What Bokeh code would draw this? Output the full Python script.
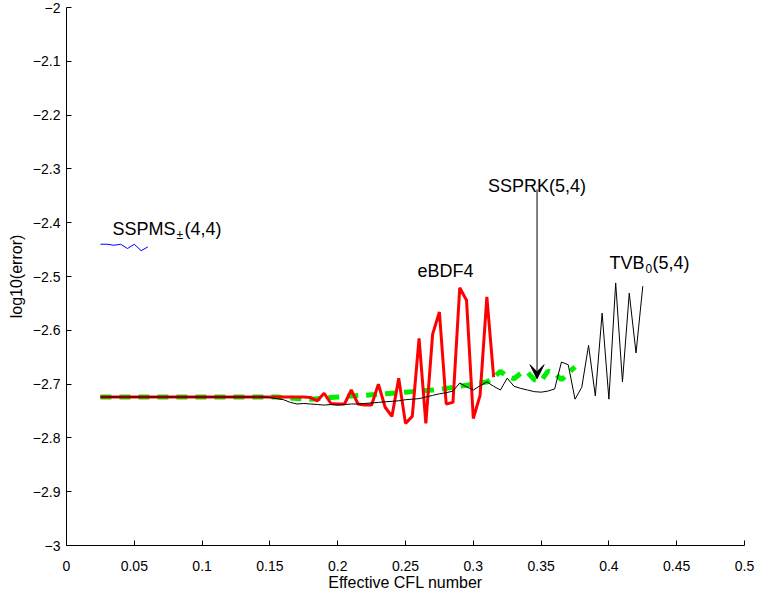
from bokeh.plotting import figure
from bokeh.models import Range1d, FixedTicker, Label, Arrow, VeeHead
from bokeh.embed import file_html
from bokeh.resources import INLINE

FONT = "Liberation Sans"

# ---------------- data ----------------
x_ticks = [0, 0.05, 0.1, 0.15, 0.2, 0.25, 0.3, 0.35, 0.4, 0.45, 0.5]
x_tick_labels = ["0", "0.05", "0.1", "0.15", "0.2", "0.25", "0.3", "0.35", "0.4", "0.45", "0.5"]
y_ticks = [-3, -2.9, -2.8, -2.7, -2.6, -2.5, -2.4, -2.3, -2.2, -2.1, -2]
y_tick_labels = ["\u22123", "\u22122.9", "\u22122.8", "\u22122.7", "\u22122.6", "\u22122.5",
                 "\u22122.4", "\u22122.3", "\u22122.2", "\u22122.1", "\u22122"]

sspms_x = [0.025, 0.03, 0.035, 0.04, 0.045, 0.05, 0.055, 0.06]
sspms_y = [-2.440, -2.440, -2.442, -2.440, -2.448, -2.440, -2.452, -2.445]

ebdf_x = [0.025, 0.03, 0.035, 0.04, 0.045, 0.05, 0.055, 0.06, 0.065, 0.07,
          0.075, 0.08, 0.085, 0.09, 0.095, 0.1, 0.105, 0.11, 0.115, 0.12,
          0.125, 0.13, 0.135, 0.14, 0.145, 0.15, 0.155, 0.16, 0.165, 0.17,
          0.175, 0.18, 0.185, 0.19, 0.195, 0.2, 0.205, 0.21, 0.215, 0.22,
          0.225, 0.23, 0.235, 0.24, 0.245, 0.25, 0.255, 0.26, 0.265, 0.27,
          0.275, 0.28, 0.285, 0.29, 0.295, 0.3, 0.305, 0.31, 0.315]
ebdf_y = [-2.724, -2.724, -2.724, -2.724, -2.724, -2.724, -2.724, -2.724, -2.724, -2.724,
          -2.724, -2.724, -2.724, -2.724, -2.724, -2.724, -2.724, -2.724, -2.724, -2.724,
          -2.724, -2.724, -2.724, -2.724, -2.724, -2.724, -2.724, -2.724, -2.724, -2.724,
          -2.724, -2.725, -2.731, -2.717, -2.736, -2.737, -2.737, -2.711, -2.737, -2.739,
          -2.739, -2.700, -2.743, -2.760, -2.689, -2.773, -2.760, -2.615, -2.773, -2.607,
          -2.566, -2.737, -2.734, -2.521, -2.544, -2.764, -2.721, -2.538, -2.687]

ssprk_x = [0.025, 0.03, 0.035, 0.04, 0.045, 0.05, 0.055, 0.06, 0.065, 0.07,
           0.075, 0.08, 0.085, 0.09, 0.095, 0.1, 0.105, 0.11, 0.115, 0.12,
           0.125, 0.13, 0.135, 0.14, 0.145, 0.15, 0.155, 0.16, 0.165, 0.17,
           0.175, 0.18, 0.185, 0.19, 0.195, 0.2, 0.205, 0.21, 0.215, 0.22,
           0.225, 0.23, 0.235, 0.24, 0.245, 0.25, 0.255, 0.26, 0.265, 0.27,
           0.275, 0.28, 0.285, 0.29, 0.295, 0.3, 0.305, 0.31, 0.315, 0.32,
           0.325, 0.33, 0.335, 0.34, 0.345, 0.35, 0.355, 0.36, 0.365, 0.37,
           0.375]
ssprk_y = [-2.724, -2.724, -2.724, -2.724, -2.724, -2.724, -2.724, -2.724, -2.724, -2.724,
           -2.724, -2.724, -2.724, -2.724, -2.724, -2.724, -2.724, -2.724, -2.724, -2.724,
           -2.724, -2.724, -2.724, -2.724, -2.724, -2.724, -2.724, -2.725, -2.726, -2.727,
           -2.727, -2.728, -2.727, -2.726, -2.725, -2.724, -2.723, -2.722, -2.721, -2.721,
           -2.720, -2.719, -2.718, -2.717, -2.716, -2.715, -2.714, -2.713, -2.712, -2.711,
           -2.710, -2.708, -2.706, -2.704, -2.702, -2.700, -2.698, -2.696, -2.688, -2.676,
           -2.686, -2.690, -2.680, -2.678, -2.692, -2.694, -2.676, -2.680, -2.692, -2.680,
           -2.668]

tvb_x = [0.025, 0.03, 0.035, 0.04, 0.045, 0.05, 0.055, 0.06, 0.065, 0.07,
         0.075, 0.08, 0.085, 0.09, 0.095, 0.1, 0.105, 0.11, 0.115, 0.12,
         0.125, 0.13, 0.135, 0.14, 0.145, 0.15, 0.155, 0.16, 0.165, 0.17,
         0.175, 0.18, 0.185, 0.19, 0.195, 0.2, 0.205, 0.21, 0.215, 0.22,
         0.225, 0.23, 0.235, 0.24, 0.245, 0.25, 0.255, 0.26, 0.265, 0.27,
         0.275, 0.28, 0.285, 0.29, 0.295, 0.3, 0.305, 0.31, 0.315, 0.32,
         0.325, 0.33, 0.335, 0.34, 0.345, 0.35, 0.355, 0.36, 0.365, 0.37,
         0.375, 0.38, 0.385, 0.39, 0.395, 0.4, 0.405, 0.41, 0.415, 0.42,
         0.425]
tvb_y = [-2.724, -2.724, -2.724, -2.724, -2.724, -2.724, -2.724, -2.724, -2.724, -2.724,
         -2.724, -2.724, -2.724, -2.724, -2.724, -2.724, -2.724, -2.724, -2.724, -2.724,
         -2.724, -2.724, -2.724, -2.724, -2.724, -2.725, -2.727, -2.729, -2.734, -2.737,
         -2.736, -2.737, -2.738, -2.739, -2.738, -2.739, -2.738, -2.737, -2.737, -2.736,
         -2.735, -2.734, -2.733, -2.732, -2.731, -2.729, -2.728, -2.727, -2.724, -2.721,
         -2.718, -2.716, -2.713, -2.698, -2.705, -2.711, -2.703, -2.696, -2.704, -2.711,
         -2.689, -2.704, -2.708, -2.711, -2.714, -2.715, -2.713, -2.709, -2.659, -2.664,
         -2.728, -2.706, -2.628, -2.722, -2.568, -2.728, -2.512, -2.696, -2.531, -2.642,
         -2.518]

# ---------------- figure ----------------
p = figure(width=757, height=596, output_backend="svg", toolbar_location=None,
           x_range=Range1d(0, 0.5), y_range=Range1d(-3, -2),
           min_border_left=66, min_border_right=13, min_border_top=7, min_border_bottom=51)
p.outline_line_color = None
p.xgrid.visible = False
p.ygrid.visible = False
p.background_fill_color = "white"
p.border_fill_color = "white"

for ax in (p.xaxis[0], p.yaxis[0]):
    ax.axis_line_color = "black"
    ax.axis_line_width = 1
    ax.major_tick_in = 5
    ax.major_tick_out = 0
    ax.minor_tick_in = 0
    ax.minor_tick_out = 0
    ax.major_tick_line_color = "black"
    ax.major_label_text_font = FONT
    ax.major_label_text_font_size = "14px"
    ax.major_label_text_color = "black"
    ax.axis_label_text_font = FONT
    ax.axis_label_text_font_size = "16px"
    ax.axis_label_text_font_style = "normal"
    ax.axis_label_text_color = "black"

p.xaxis.ticker = FixedTicker(ticks=x_ticks)
p.xaxis.major_label_overrides = dict(zip(x_ticks, x_tick_labels))
p.yaxis.ticker = FixedTicker(ticks=y_ticks)
p.yaxis.major_label_overrides = dict(zip(y_ticks, y_tick_labels))
p.xaxis.axis_label = "Effective CFL number"
p.yaxis.axis_label = "log10(error)"
p.xaxis.major_label_standoff = 15
p.xaxis.axis_label_standoff = 0
p.yaxis.major_label_standoff = 6
p.yaxis.axis_label_standoff = 5

# ---------------- lines ----------------
p.line(sspms_x, sspms_y, line_color="#0000ff", line_width=1)
p.line(ssprk_x, ssprk_y, line_color="#00ee00", line_width=5, line_dash="11 8")
p.line(ebdf_x, ebdf_y, line_color="#ff0000", line_width=3)
p.line(tvb_x, tvb_y, line_color="black", line_width=1)

# ---------------- annotations ----------------
def lab(x, y, t, size="18px", align="left", xo=0, yo=0):
    p.add_layout(Label(x=x, y=y, text=t, text_font=FONT, text_font_size=size,
                       text_align=align, text_baseline="alphabetic",
                       x_offset=xo, y_offset=yo, text_color="black"))

lab(0.034, -2.411, "SSPMS")
lab(0.034, -2.411, "\u00b1", size="12px", xo=64, yo=-6)
lab(0.034, -2.411, "(4,4)", xo=72)

lab(0.2795, -2.489, "eBDF4", align="center")
lab(0.347, -2.331, "SSPRK(5,4)", align="center")

lab(0.4005, -2.474, "TVB")
lab(0.4005, -2.474, "0", size="12px", xo=36, yo=-6)
lab(0.4005, -2.474, "(5,4)", xo=43)

p.add_layout(Arrow(end=VeeHead(size=14, fill_color="black", line_color="black"),
                   x_start=0.347, y_start=-2.338, x_end=0.347, y_end=-2.69,
                   line_color="black", line_width=1))

open("out.html", "w").write(file_html(p, INLINE))
